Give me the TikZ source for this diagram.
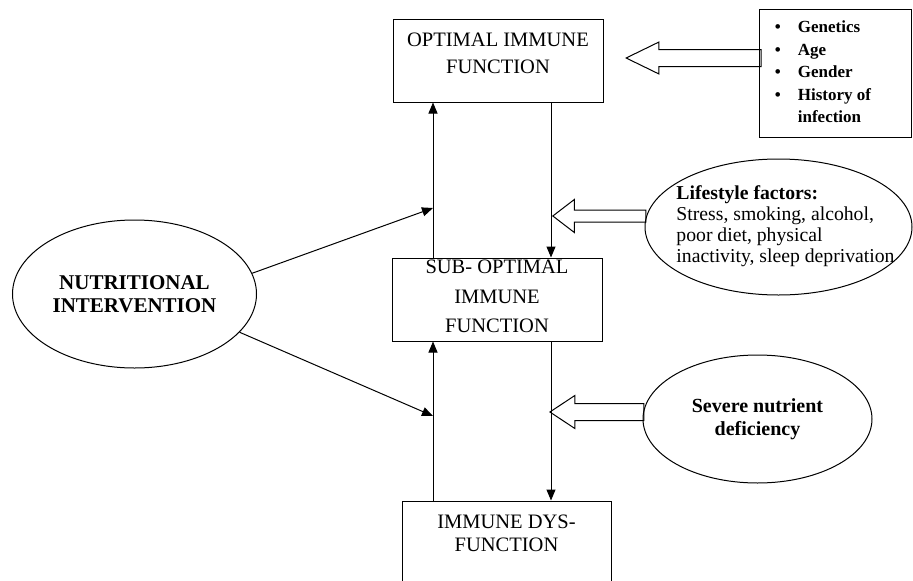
\documentclass[tikz,border=0pt]{standalone}
\usepackage{fontspec}
\setmainfont{Liberation Serif}
\usetikzlibrary{shapes.geometric,shapes.arrows,arrows.meta}

\tikzset{
  stage/.style={draw, rectangle, line width=1pt, align=center, minimum width=210pt, text depth=4pt,
    font=\fontsize{20.5}{27}\selectfont},
  factor/.style={draw, ellipse, line width=1pt, align=center},
  link/.style={line width=1pt, -{Triangle[length=11pt,width=9pt]}},
  hollow/.style={draw, single arrow, shape border rotate=180, line width=1pt, inner xsep=0pt, minimum height=#1},
}

\begin{document}
\begin{tikzpicture}[x=1pt, y=-1pt]
\clip (0,0) rectangle (913,581);

\node[stage, minimum height=83pt, text height=30pt] (optimal) at (498,60.5) {OPTIMAL IMMUNE\\FUNCTION};
\node[stage, minimum height=83pt, text height=70pt, font=\fontsize{20.5}{29.5}\selectfont] (sub) at (497,299.5) {SUB- OPTIMAL\\IMMUNE\\FUNCTION};
\node[stage, minimum width=209pt, minimum height=120pt, text height=21pt, text depth=40pt, font=\fontsize{20.5}{23}\selectfont] (dys) at (506.5,561) {IMMUNE DYS-\\FUNCTION};

\node[draw, line width=1pt, minimum width=152pt, minimum height=128pt, inner sep=0pt,
  font=\bfseries\fontsize{17}{22.5}\selectfont] (host) at (835,73)
  {\begin{tabular}{@{}l@{\hspace{17pt}}l@{\hspace{24pt}}}
    \textbullet & Genetics\\
    \textbullet & Age\\
    \textbullet & Gender\\
    \textbullet & History of\\
                & infection
  \end{tabular}};

\node[factor, minimum width=244pt, minimum height=148pt, font=\bfseries\fontsize{21}{23}\selectfont] (nutri) at (134.5,294) {NUTRITIONAL\\INTERVENTION};
\node[factor, minimum width=267pt, minimum height=136pt, inner xsep=-25pt, inner ysep=0pt,
  font=\fontsize{19.7}{21}\selectfont] (life) at (778.5,227)
  {\begin{tabular}{@{\hspace{14pt}}l@{}}
    \textbf{Lifestyle factors:}\\
    Stress, smoking, alcohol,\\
    poor diet, physical\\
    inactivity, sleep deprivation
  \end{tabular}};
\node[factor, minimum width=229pt, minimum height=128pt, font=\bfseries\fontsize{20}{23}\selectfont] (severe) at (757.5,419) {Severe nutrient\\deficiency};

\node[hollow=135pt, inner ysep=8pt, single arrow head extend=7.5pt, single arrow tip angle=52, anchor=tip] (hostarrow) at (625,58) {};
\node[hollow=93pt, inner ysep=5.5pt, single arrow head extend=10.5pt, single arrow tip angle=75, anchor=tip] (lifearrow) at (552,216) {};
\node[hollow=94pt, inner ysep=8pt, single arrow head extend=8pt, single arrow tip angle=67, anchor=tip] (severearrow) at (549,412) {};

\coordinate (upline) at (433,0);
\coordinate (downline) at (551,0);
\coordinate (intoup) at (433,208);
\coordinate (intolow) at (433,416);

\draw[link] (sub.north -| upline) -- (optimal.south -| upline);
\draw[link] (optimal.south -| downline) -- (sub.north -| downline);
\draw[link] (dys.north -| upline) -- (sub.south -| upline);
\draw[link] (sub.south -| downline) -- (dys.north -| downline);
\draw[link] (nutri.10) -- (intoup);
\draw[link] (nutri.-20) -- (intolow);
\end{tikzpicture}
\end{document}
